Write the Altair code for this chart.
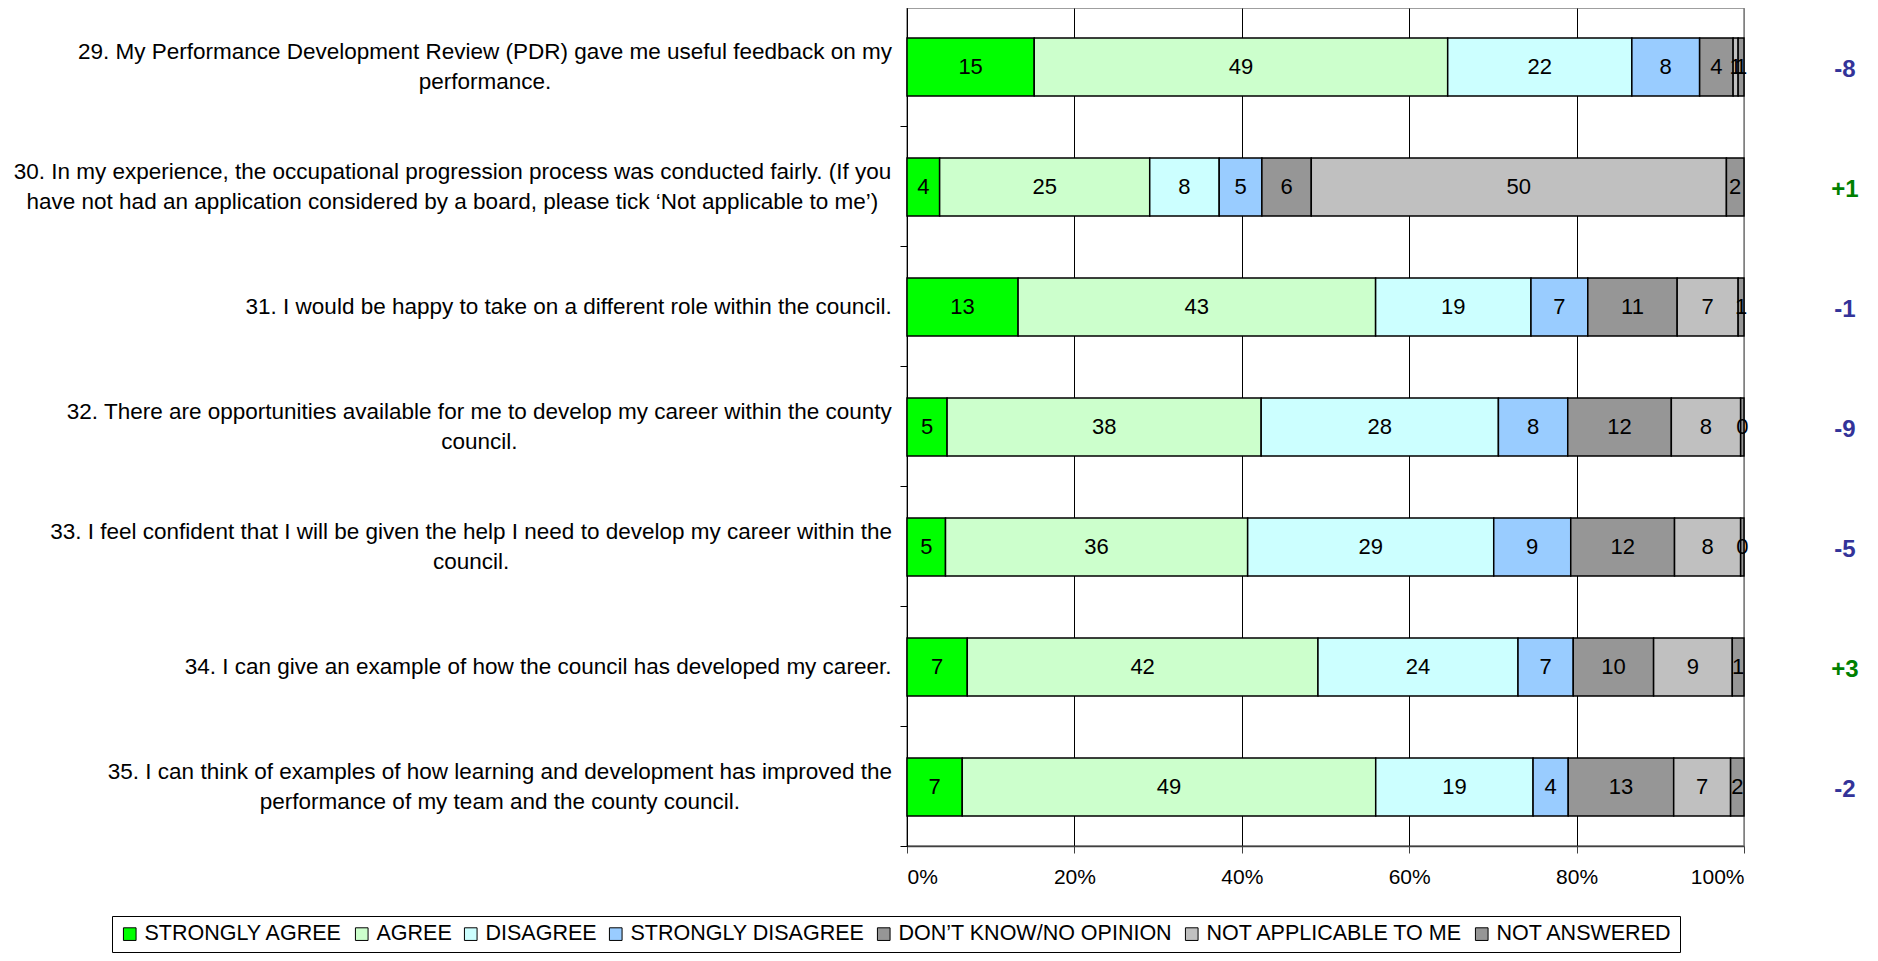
import altair as alt
import pandas as pd

# ---------------- data ----------------
question_ids = ["29", "30", "31", "32", "33", "34", "35"]
question_lines = [
    ["29. My Performance Development Review (PDR) gave me useful feedback on my", "performance."],
    ["30. In my experience, the occupational progression process was conducted fairly. (If you",
     "have not had an application considered by a board, please tick \u2018Not applicable to me\u2019)"],
    ["31. I would be happy to take on a different role within the council."],
    ["32. There are opportunities available for me to develop my career within the county", "council."],
    ["33. I feel confident that I will be given the help I need to develop my career within the", "council."],
    ["34. I can give an example of how the council has developed my career."],
    ["35. I can think of examples of how learning and development has improved the",
     "performance of my team and the county council."],
]

categories = ["STRONGLY AGREE", "AGREE", "DISAGREE", "STRONGLY DISAGREE",
              "DON\u2019T KNOW/NO OPINION", "NOT APPLICABLE TO ME", "NOT ANSWERED"]
colors = ["#00ff00", "#ccffcc", "#ccffff", "#99ccff", "#969696", "#c0c0c0", "#969696"]

strongly_agree    = [15.2, 3.9, 13.3, 4.8, 4.6, 7.2, 6.6]
agree             = [49.4, 25.1, 42.8, 37.6, 36.1, 41.9, 49.4]
disagree          = [22.0, 8.3, 18.6, 28.4, 29.4, 23.9, 18.8]
strongly_disagree = [8.1, 5.1, 6.8, 8.3, 9.2, 6.6, 4.2]
dont_know         = [4.0, 5.9, 10.7, 12.4, 12.4, 9.6, 12.6]
not_applicable    = [0.6, 49.6, 7.3, 8.3, 7.9, 9.4, 6.8]
not_answered      = [0.7, 2.1, 0.7, 0.4, 0.4, 1.4, 1.6]

change = [-8, 1, -1, -9, -5, 3, -2]

x_ticks = [0, 0.2, 0.4, 0.6, 0.8, 1.0]

# ---------------- layout constants ----------------
W, H = 837, 838
FONT = "Liberation Sans"
FS = 21          # tick labels
FS_BAR = 22      # bar numbers
FS_LAB = 22.5    # question labels
FS_LEG = 21.5    # legend
LABEL_PAD = 15
LINE_H = 30

# Arial/Helvetica advance widths (per 1000 em) to centre the multi-line labels
HELV = {' ': 278, '.': 278, ',': 278, '(': 333, ')': 333, '\u2018': 222, '\u2019': 222, '/': 278,
        'A': 667, 'B': 667, 'C': 722, 'D': 722, 'E': 667, 'F': 611, 'G': 778, 'H': 722, 'I': 278,
        'J': 500, 'K': 667, 'L': 556, 'M': 833, 'N': 722, 'O': 778, 'P': 667, 'Q': 778, 'R': 722,
        'S': 667, 'T': 611, 'U': 722, 'V': 667, 'W': 944, 'X': 667, 'Y': 667, 'Z': 611,
        'a': 556, 'b': 556, 'c': 500, 'd': 556, 'e': 556, 'f': 278, 'g': 556, 'h': 556, 'i': 222,
        'j': 222, 'k': 500, 'l': 222, 'm': 833, 'n': 556, 'o': 556, 'p': 556, 'q': 556, 'r': 333,
        's': 500, 't': 278, 'u': 556, 'v': 500, 'w': 722, 'x': 500, 'y': 500, 'z': 500}


def text_width(s, fs):
    return sum(HELV.get(ch, 556) for ch in s) * fs / 1000.0


series = [strongly_agree, agree, disagree, strongly_disagree, dont_know, not_applicable, not_answered]
rows = []
for ci, (cat, vals) in enumerate(zip(categories, series)):
    for qi, q in enumerate(question_ids):
        rows.append({"q": q, "cat": cat, "order": ci, "value": vals[qi]})
bars_df = pd.DataFrame(rows)

lab_rows = []
for q, lines in zip(question_ids, question_lines):
    w = max(text_width(l, FS_LAB) for l in lines)
    for li, l in enumerate(lines):
        lab_rows.append({"q": q, "text": l, "idx": li, "n": len(lines),
                         "lx": -(LABEL_PAD + w / 2) / W})
labels_df = pd.DataFrame(lab_rows)

chg_df = pd.DataFrame({
    "q": question_ids,
    "chg": [("+%d" % c) if c > 0 else ("%d" % c) for c in change],
    "col": ["#008000" if c > 0 else "#333399" for c in change],
})

xscale = alt.Scale(domain=[0, 1])
yenc = alt.Y("q:N", sort=question_ids,
             scale=alt.Scale(paddingInner=0.517, paddingOuter=0.25),
             axis=alt.Axis(labels=False, title=None, tickSize=7, tickColor="black",
                           domainColor="black", bandPosition=1.534, grid=False))
ysimple = alt.Y("q:N", sort=question_ids)

base = alt.Chart(bars_df).transform_stack(
    stack="value", groupby=["q"], as_=["x0", "x1"], offset="normalize",
    sort=[alt.SortField("order", order="ascending")]
).transform_calculate(mid="(datum.x0 + datum.x1) / 2")

bars = base.mark_bar(stroke="black", strokeWidth=1.5, opacity=1).encode(
    x=alt.X("x0:Q", scale=xscale,
            axis=alt.Axis(format=".0%", values=x_ticks, title=None, tickSize=7,
                          tickColor="#404040", domainColor="#404040", domainWidth=1.5,
                          labelFontSize=FS, labelFont=FONT, labelColor="black", labelPadding=13,
                          grid=True, gridWidth=1,
                          gridColor=alt.condition("datum.value >= 0.999", alt.value("#808080"), alt.value("black")))),
    x2="x1:Q",
    y=yenc,
    color=alt.Color("cat:N", scale=alt.Scale(domain=categories, range=colors),
                    legend=alt.Legend(orient="none", legendX=-795, legendY=908, direction="horizontal",
                                      columns=7, title=None, labelFontSize=FS_LEG, labelFont=FONT,
                                      labelColor="black", symbolType="square", symbolSize=160,
                                      symbolStrokeColor="black", symbolStrokeWidth=1, symbolOpacity=1,
                                      labelOffset=4, columnPadding=8, padding=7, strokeColor="black",
                                      fillColor="white", labelLimit=1000)),
    order=alt.Order("order:Q"),
)

bar_text = base.mark_text(fontSize=FS_BAR, font=FONT, color="black", baseline="middle", align="center").encode(
    x=alt.X("mid:Q", scale=xscale),
    y=ysimple,
    text=alt.Text("value:Q", format=".0f"),
)

lab_base = alt.Chart(labels_df)


def label_layer(filter_expr, dy):
    return lab_base.transform_filter(filter_expr).mark_text(
        fontSize=FS_LAB, font=FONT, color="black", align="center", baseline="middle", dy=dy
    ).encode(
        x=alt.X("lx:Q", scale=xscale),
        y=ysimple,
        text="text:N",
    )


lab_single = label_layer("datum.n == 1", 0)
lab_first = label_layer("datum.n == 2 && datum.idx == 0", -LINE_H / 2)
lab_second = label_layer("datum.n == 2 && datum.idx == 1", LINE_H / 2)

chg_text = alt.Chart(chg_df).mark_text(
    fontSize=24, font=FONT, fontWeight="bold", align="center", baseline="middle", dy=3
).encode(
    x=alt.value(938),
    y=ysimple,
    text="chg:N",
    color=alt.Color("col:N", scale=None),
)

chart = alt.layer(bars, bar_text, lab_single, lab_first, lab_second, chg_text).properties(
    width=W, height=H,
    autosize=alt.AutoSizeParams(type="none"),
    padding={"left": 899, "top": 0, "right": 125, "bottom": 107},
).configure_view(stroke="#808080", strokeWidth=1.5)

chart.save("out.html", embed_options={"renderer": "svg", "actions": False})
